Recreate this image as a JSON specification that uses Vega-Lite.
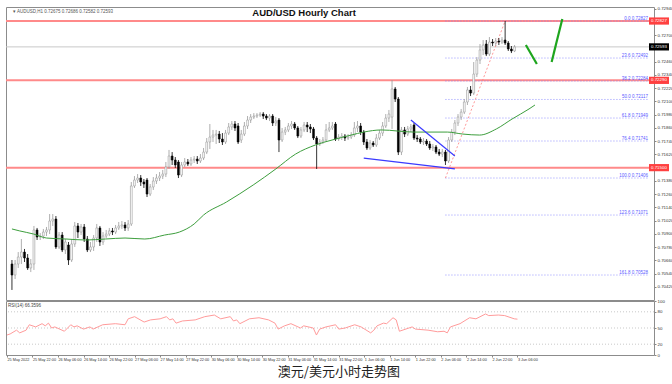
{
  "$schema": "https://vega.github.io/schema/vega-lite/v6.json",
  "background": "white",
  "padding": {"left": 4, "top": 5, "right": 0, "bottom": 0},
  "spacing": 1,
  "bounds": "flush",
  "config": {
    "view": {"stroke": "#8c8c8c", "strokeWidth": 1},
    "axis": {"labelFont": "Liberation Sans", "grid": false, "labelOverlap": false, "labelFlush": false, "labelFontSize": 4.4, "labelColor": "#333333", "tickColor": "#888888", "domain": false, "tickCount": 100},
    "axisRight": {"tickSize": 2, "labelPadding": 1},
    "axisBottom": {"tickSize": 2, "labelPadding": 0.5, "labelAlign": "left", "labelFontSize": 3.8},
    "text": {"font": "Liberation Sans"}
  },
  "title": {"text": "澳元/美元小时走势图", "orient": "bottom", "anchor": "middle", "font": "Noto Sans CJK SC", "fontSize": 13, "fontWeight": "normal", "color": "#222222", "offset": 4},
  "datasets": {
    "candles": [
      {"i":0,"o":0.70628,"h":0.70664,"l":0.70393,"c":0.70528},
      {"i":1,"o":0.70528,"h":0.70664,"l":0.70492,"c":0.70628},
      {"i":2,"o":0.70628,"h":0.70736,"l":0.70592,"c":0.70691},
      {"i":3,"o":0.70691,"h":0.70854,"l":0.70628,"c":0.70736},
      {"i":4,"o":0.70736,"h":0.70764,"l":0.70646,"c":0.70682},
      {"i":5,"o":0.70682,"h":0.70718,"l":0.70574,"c":0.70592},
      {"i":6,"o":0.70592,"h":0.70673,"l":0.70555,"c":0.70628},
      {"i":7,"o":0.70628,"h":0.70972,"l":0.70574,"c":0.70936},
      {"i":8,"o":0.70936,"h":0.70954,"l":0.70845,"c":0.70872},
      {"i":9,"o":0.70872,"h":0.70908,"l":0.70845,"c":0.70881},
      {"i":10,"o":0.70881,"h":0.70945,"l":0.70854,"c":0.70917},
      {"i":11,"o":0.70917,"h":0.70963,"l":0.70881,"c":0.70936},
      {"i":12,"o":0.70936,"h":0.7108,"l":0.70899,"c":0.71017},
      {"i":13,"o":0.71017,"h":0.7108,"l":0.70972,"c":0.71035},
      {"i":14,"o":0.71035,"h":0.71062,"l":0.70764,"c":0.70782},
      {"i":15,"o":0.70782,"h":0.70917,"l":0.70764,"c":0.7089},
      {"i":16,"o":0.7089,"h":0.70917,"l":0.70736,"c":0.70755},
      {"i":17,"o":0.70755,"h":0.70854,"l":0.70718,"c":0.70827},
      {"i":18,"o":0.708,"h":0.70827,"l":0.70619,"c":0.70664},
      {"i":19,"o":0.70664,"h":0.70854,"l":0.70646,"c":0.70809},
      {"i":20,"o":0.70809,"h":0.71008,"l":0.70782,"c":0.70972},
      {"i":21,"o":0.70972,"h":0.70999,"l":0.70863,"c":0.70917},
      {"i":22,"o":0.70917,"h":0.7099,"l":0.7089,"c":0.70963},
      {"i":23,"o":0.70963,"h":0.7099,"l":0.70827,"c":0.70854},
      {"i":24,"o":0.70854,"h":0.70881,"l":0.70736,"c":0.70755},
      {"i":25,"o":0.70755,"h":0.70827,"l":0.70736,"c":0.70782},
      {"i":26,"o":0.70782,"h":0.7089,"l":0.70746,"c":0.70863},
      {"i":27,"o":0.70863,"h":0.7099,"l":0.70827,"c":0.70954},
      {"i":28,"o":0.70954,"h":0.70972,"l":0.70791,"c":0.70827},
      {"i":29,"o":0.70827,"h":0.70917,"l":0.708,"c":0.70881},
      {"i":30,"o":0.70881,"h":0.70936,"l":0.70863,"c":0.70899},
      {"i":31,"o":0.70899,"h":0.70954,"l":0.70881,"c":0.70927},
      {"i":32,"o":0.70927,"h":0.70954,"l":0.7089,"c":0.70917},
      {"i":33,"o":0.70917,"h":0.70981,"l":0.70899,"c":0.70954},
      {"i":34,"o":0.70954,"h":0.71008,"l":0.70936,"c":0.70972},
      {"i":35,"o":0.70972,"h":0.71017,"l":0.70945,"c":0.70981},
      {"i":36,"o":0.70981,"h":0.71008,"l":0.70927,"c":0.70954},
      {"i":37,"o":0.70954,"h":0.71026,"l":0.70927,"c":0.7099},
      {"i":38,"o":0.7099,"h":0.7137,"l":0.70972,"c":0.71334},
      {"i":39,"o":0.71334,"h":0.71424,"l":0.71316,"c":0.71388},
      {"i":40,"o":0.71388,"h":0.71442,"l":0.71361,"c":0.71406},
      {"i":41,"o":0.71406,"h":0.71433,"l":0.71334,"c":0.7137},
      {"i":42,"o":0.7137,"h":0.71397,"l":0.71316,"c":0.71352},
      {"i":43,"o":0.71388,"h":0.71406,"l":0.71234,"c":0.71261},
      {"i":44,"o":0.71261,"h":0.71352,"l":0.71243,"c":0.71325},
      {"i":45,"o":0.71325,"h":0.71415,"l":0.71298,"c":0.71379},
      {"i":46,"o":0.71379,"h":0.71442,"l":0.71352,"c":0.71406},
      {"i":47,"o":0.71406,"h":0.7146,"l":0.71379,"c":0.71424},
      {"i":48,"o":0.71424,"h":0.71479,"l":0.71397,"c":0.71442},
      {"i":49,"o":0.71442,"h":0.71551,"l":0.71415,"c":0.71506},
      {"i":50,"o":0.71506,"h":0.7166,"l":0.71488,"c":0.71605},
      {"i":51,"o":0.71605,"h":0.71641,"l":0.71524,"c":0.71569},
      {"i":52,"o":0.71569,"h":0.71596,"l":0.71497,"c":0.71524},
      {"i":53,"o":0.71551,"h":0.71569,"l":0.71406,"c":0.71433},
      {"i":54,"o":0.71433,"h":0.71551,"l":0.71415,"c":0.71524},
      {"i":55,"o":0.71524,"h":0.71587,"l":0.71506,"c":0.71551},
      {"i":56,"o":0.71551,"h":0.71578,"l":0.71515,"c":0.71533},
      {"i":57,"o":0.71533,"h":0.71596,"l":0.71515,"c":0.71569},
      {"i":58,"o":0.71569,"h":0.71605,"l":0.71542,"c":0.71578},
      {"i":59,"o":0.71578,"h":0.71605,"l":0.71533,"c":0.7156},
      {"i":60,"o":0.7156,"h":0.71623,"l":0.71542,"c":0.71587},
      {"i":61,"o":0.71587,"h":0.71678,"l":0.71569,"c":0.71641},
      {"i":62,"o":0.71641,"h":0.71768,"l":0.71623,"c":0.71732},
      {"i":63,"o":0.71732,"h":0.71895,"l":0.71669,"c":0.71777},
      {"i":64,"o":0.71777,"h":0.71841,"l":0.71732,"c":0.71795},
      {"i":65,"o":0.71795,"h":0.71841,"l":0.71714,"c":0.71804},
      {"i":66,"o":0.71804,"h":0.71832,"l":0.71723,"c":0.71759},
      {"i":67,"o":0.71759,"h":0.71813,"l":0.71705,"c":0.71732},
      {"i":68,"o":0.71732,"h":0.71841,"l":0.71714,"c":0.71813},
      {"i":69,"o":0.71813,"h":0.71904,"l":0.71795,"c":0.71868},
      {"i":70,"o":0.71868,"h":0.71922,"l":0.71841,"c":0.71895},
      {"i":71,"o":0.71895,"h":0.71922,"l":0.71832,"c":0.71859},
      {"i":72,"o":0.71877,"h":0.71904,"l":0.71714,"c":0.71732},
      {"i":73,"o":0.7175,"h":0.71841,"l":0.71723,"c":0.71804},
      {"i":74,"o":0.71804,"h":0.71913,"l":0.71786,"c":0.71877},
      {"i":75,"o":0.71877,"h":0.71967,"l":0.7185,"c":0.71931},
      {"i":76,"o":0.71931,"h":0.71985,"l":0.71904,"c":0.71958},
      {"i":77,"o":0.71958,"h":0.71994,"l":0.7194,"c":0.71967},
      {"i":78,"o":0.71967,"h":0.71994,"l":0.71949,"c":0.71976},
      {"i":79,"o":0.71976,"h":0.72003,"l":0.71958,"c":0.71985},
      {"i":80,"o":0.71985,"h":0.72003,"l":0.7194,"c":0.71967},
      {"i":81,"o":0.71967,"h":0.71985,"l":0.71931,"c":0.71949},
      {"i":82,"o":0.71949,"h":0.71985,"l":0.71922,"c":0.71967},
      {"i":83,"o":0.71967,"h":0.71985,"l":0.71877,"c":0.71904},
      {"i":84,"o":0.71904,"h":0.71958,"l":0.71877,"c":0.71922},
      {"i":85,"o":0.71931,"h":0.71949,"l":0.71641,"c":0.7175},
      {"i":86,"o":0.7175,"h":0.71859,"l":0.71732,"c":0.71822},
      {"i":87,"o":0.71822,"h":0.71868,"l":0.71795,"c":0.71841},
      {"i":88,"o":0.71841,"h":0.71904,"l":0.71822,"c":0.71877},
      {"i":89,"o":0.71877,"h":0.71922,"l":0.7185,"c":0.71895},
      {"i":90,"o":0.71895,"h":0.71913,"l":0.71841,"c":0.71859},
      {"i":91,"o":0.71859,"h":0.71877,"l":0.71768,"c":0.71786},
      {"i":92,"o":0.71786,"h":0.71868,"l":0.71768,"c":0.71841},
      {"i":93,"o":0.71841,"h":0.71913,"l":0.71822,"c":0.71886},
      {"i":94,"o":0.71886,"h":0.71913,"l":0.71822,"c":0.71868},
      {"i":95,"o":0.71868,"h":0.71895,"l":0.71813,"c":0.7185},
      {"i":96,"o":0.7185,"h":0.71868,"l":0.7175,"c":0.71768},
      {"i":97,"o":0.71768,"h":0.71786,"l":0.71488,"c":0.71714},
      {"i":98,"o":0.71714,"h":0.71759,"l":0.71696,"c":0.71732},
      {"i":99,"o":0.71732,"h":0.71777,"l":0.71714,"c":0.7175},
      {"i":100,"o":0.7175,"h":0.71895,"l":0.71732,"c":0.71841},
      {"i":101,"o":0.71841,"h":0.71913,"l":0.71822,"c":0.71859},
      {"i":102,"o":0.71859,"h":0.71913,"l":0.71841,"c":0.71877},
      {"i":103,"o":0.71895,"h":0.71913,"l":0.71741,"c":0.71759},
      {"i":104,"o":0.71759,"h":0.71804,"l":0.71741,"c":0.71777},
      {"i":105,"o":0.71777,"h":0.71813,"l":0.7175,"c":0.71786},
      {"i":106,"o":0.71786,"h":0.71804,"l":0.71741,"c":0.71768},
      {"i":107,"o":0.71768,"h":0.71804,"l":0.7175,"c":0.71777},
      {"i":108,"o":0.71777,"h":0.71822,"l":0.71759,"c":0.71795},
      {"i":109,"o":0.71795,"h":0.71913,"l":0.71777,"c":0.71859},
      {"i":110,"o":0.71859,"h":0.71922,"l":0.71822,"c":0.71877},
      {"i":111,"o":0.71877,"h":0.71904,"l":0.71795,"c":0.71822},
      {"i":112,"o":0.71822,"h":0.71841,"l":0.71705,"c":0.71732},
      {"i":113,"o":0.71732,"h":0.71759,"l":0.7166,"c":0.71678},
      {"i":114,"o":0.71678,"h":0.7175,"l":0.7166,"c":0.71723},
      {"i":115,"o":0.71723,"h":0.71741,"l":0.71687,"c":0.71705},
      {"i":116,"o":0.71705,"h":0.71804,"l":0.71687,"c":0.71768},
      {"i":117,"o":0.71768,"h":0.71841,"l":0.7175,"c":0.71813},
      {"i":118,"o":0.71813,"h":0.71913,"l":0.71786,"c":0.71877},
      {"i":119,"o":0.71877,"h":0.71985,"l":0.71859,"c":0.71949},
      {"i":120,"o":0.71949,"h":0.72022,"l":0.71913,"c":0.71985},
      {"i":121,"o":0.71958,"h":0.72293,"l":0.7185,"c":0.72212},
      {"i":122,"o":0.72212,"h":0.7223,"l":0.72094,"c":0.72121},
      {"i":123,"o":0.72121,"h":0.72139,"l":0.71614,"c":0.71641},
      {"i":124,"o":0.71641,"h":0.71868,"l":0.71614,"c":0.71841},
      {"i":125,"o":0.71841,"h":0.71868,"l":0.71777,"c":0.71804},
      {"i":126,"o":0.71804,"h":0.71877,"l":0.71786,"c":0.7185},
      {"i":127,"o":0.7185,"h":0.71895,"l":0.71822,"c":0.71868},
      {"i":128,"o":0.71886,"h":0.71904,"l":0.7175,"c":0.71768},
      {"i":129,"o":0.71768,"h":0.71795,"l":0.71732,"c":0.71759},
      {"i":130,"o":0.71759,"h":0.71777,"l":0.71714,"c":0.71732},
      {"i":131,"o":0.71732,"h":0.71768,"l":0.71705,"c":0.71741},
      {"i":132,"o":0.71741,"h":0.71759,"l":0.71696,"c":0.71714},
      {"i":133,"o":0.71714,"h":0.71741,"l":0.7166,"c":0.71678},
      {"i":134,"o":0.71678,"h":0.71714,"l":0.71651,"c":0.71687},
      {"i":135,"o":0.71687,"h":0.71705,"l":0.71623,"c":0.71641},
      {"i":136,"o":0.71641,"h":0.71669,"l":0.71605,"c":0.71623},
      {"i":137,"o":0.71623,"h":0.71669,"l":0.71596,"c":0.71641},
      {"i":138,"o":0.71641,"h":0.7166,"l":0.71524,"c":0.7156},
      {"i":139,"o":0.7156,"h":0.71777,"l":0.71542,"c":0.7175},
      {"i":140,"o":0.7175,"h":0.7185,"l":0.71732,"c":0.71822},
      {"i":141,"o":0.71822,"h":0.71931,"l":0.71795,"c":0.71904},
      {"i":142,"o":0.71904,"h":0.71985,"l":0.71877,"c":0.71958},
      {"i":143,"o":0.71958,"h":0.72031,"l":0.71931,"c":0.72003},
      {"i":144,"o":0.72003,"h":0.72121,"l":0.71985,"c":0.72094},
      {"i":145,"o":0.72094,"h":0.7223,"l":0.72067,"c":0.72203},
      {"i":146,"o":0.72203,"h":0.72239,"l":0.72148,"c":0.72175},
      {"i":147,"o":0.72175,"h":0.72456,"l":0.72157,"c":0.72347},
      {"i":148,"o":0.72347,"h":0.72501,"l":0.7232,"c":0.72474},
      {"i":149,"o":0.72474,"h":0.72619,"l":0.72438,"c":0.72565},
      {"i":150,"o":0.72565,"h":0.72655,"l":0.72519,"c":0.7261},
      {"i":151,"o":0.72619,"h":0.72655,"l":0.7251,"c":0.72528},
      {"i":152,"o":0.72528,"h":0.72682,"l":0.7251,"c":0.72637},
      {"i":153,"o":0.72637,"h":0.72664,"l":0.72601,"c":0.72628},
      {"i":154,"o":0.72628,"h":0.72673,"l":0.72601,"c":0.72646},
      {"i":155,"o":0.72646,"h":0.72673,"l":0.7261,"c":0.72637},
      {"i":156,"o":0.72637,"h":0.72682,"l":0.72619,"c":0.72655},
      {"i":157,"o":0.72655,"h":0.72827,"l":0.7261,"c":0.72628},
      {"i":158,"o":0.72628,"h":0.72646,"l":0.72556,"c":0.72574},
      {"i":159,"o":0.72574,"h":0.72601,"l":0.72537,"c":0.72556},
      {"i":160,"o":0.72556,"h":0.7261,"l":0.72546,"c":0.72593}
    ],
    "ma": [
      {"i":0,"p":0.70945},{"i":2.5,"p":0.70927},{"i":6.9,"p":0.70899},{"i":11,"p":0.70863},
      {"i":17.2,"p":0.70854},{"i":23.5,"p":0.70845},{"i":29.8,"p":0.70854},{"i":36,"p":0.70863},
      {"i":42.3,"p":0.70854},{"i":48.6,"p":0.7089},{"i":53.3,"p":0.70917},{"i":58,"p":0.7099},
      {"i":61,"p":0.71071},{"i":68.3,"p":0.71189},{"i":76.8,"p":0.71343},{"i":84,"p":0.71488},
      {"i":90.3,"p":0.71623},{"i":96.6,"p":0.71705},{"i":101.9,"p":0.7175},{"i":108,"p":0.71795},
      {"i":112,"p":0.71822},{"i":117.6,"p":0.71841},{"i":127.9,"p":0.71822},{"i":138.6,"p":0.71822},
      {"i":143.5,"p":0.71804},{"i":148.9,"p":0.71795},{"i":154.2,"p":0.7185},{"i":159.2,"p":0.7194},
      {"i":164.6,"p":0.72031},{"i":166.5,"p":0.72067}
    ],
    "rsi": [
      {"i":0,"r":37},{"i":1,"r":39},{"i":3,"r":46},{"i":4,"r":41},{"i":6,"r":46},{"i":7,"r":56},{"i":9,"r":52},{"i":11,"r":58},{"i":12,"r":54},{"i":13,"r":59},{"i":14,"r":50},{"i":15,"r":52},{"i":18,"r":44},{"i":20,"r":56},{"i":21,"r":52},{"i":22,"r":54},{"i":24,"r":48},{"i":26,"r":52},{"i":27,"r":48},{"i":30,"r":56},{"i":34,"r":58},{"i":37,"r":56},{"i":38,"r":67},{"i":40,"r":71},{"i":43,"r":61},{"i":45,"r":65},{"i":48,"r":67},{"i":50,"r":71},{"i":51,"r":65},{"i":52,"r":67},{"i":53,"r":59},{"i":55,"r":63},{"i":59,"r":65},{"i":62,"r":71},{"i":65,"r":74},{"i":67,"r":67},{"i":70,"r":71},{"i":71,"r":63},{"i":72,"r":65},{"i":73,"r":58},{"i":76,"r":67},{"i":79,"r":69},{"i":82,"r":65},{"i":84,"r":59},{"i":85,"r":48},{"i":87,"r":54},{"i":89,"r":58},{"i":92,"r":50},{"i":93,"r":54},{"i":96,"r":50},{"i":97,"r":37},{"i":98,"r":48},{"i":100,"r":52},{"i":103,"r":56},{"i":104,"r":48},{"i":106,"r":50},{"i":109,"r":56},{"i":111,"r":52},{"i":114,"r":41},{"i":115,"r":46},{"i":116,"r":54},{"i":118,"r":59},{"i":119,"r":58},{"i":121,"r":69},{"i":122,"r":65},{"i":123,"r":44},{"i":127,"r":52},{"i":128,"r":48},{"i":132,"r":46},{"i":135,"r":43},{"i":137,"r":44},{"i":138,"r":41},{"i":139,"r":52},{"i":142,"r":58},{"i":145,"r":69},{"i":147,"r":67},{"i":150,"r":76},{"i":151,"r":73},{"i":154,"r":74},{"i":156,"r":73},{"i":159,"r":67},{"i":160,"r":66.36}
    ],
    "fib": [
      {"i":138,"p":0.72827,"t":"0.0 0.72827"},
      {"i":138,"p":0.72492,"t":"23.6 0.72492"},
      {"i":138,"p":0.72284,"t":"38.2 0.72284"},
      {"i":138,"p":0.72117,"t":"50.0 0.72117"},
      {"i":138,"p":0.71949,"t":"61.8 0.71949"},
      {"i":138,"p":0.71741,"t":"76.4 0.71741"},
      {"i":138,"p":0.71406,"t":"100.0 0.71406"},
      {"i":138,"p":0.71071,"t":"123.6 0.71071"},
      {"i":138,"p":0.70528,"t":"161.8 0.70528"}
    ]
  },
  "vconcat": [
    {
      "width": 648,
      "height": 293,
      "layer": [
        {
          "data": {"values": [{"p":0.72827},{"p":0.7229},{"p":0.715}]},
          "mark": {"type": "rule", "color": "#ff8a8a", "strokeWidth": 2},
          "encoding": {
            "y": {"field": "p", "type": "quantitative", "title": null, "scale": {"domain": [0.70302, 0.72954], "nice": false, "zero": false},
              "axis": {"orient": "right", "title": null, "tickCount": 100, "values": [0.703,0.7042,0.7054,0.7066,0.7078,0.709,0.7102,0.7114,0.7126,0.7138,0.7162,0.7174,0.7186,0.7198,0.721,0.7222,0.7234,0.7246,0.727,0.7294],
                "format": ".5f", "labelOverlap": false, "labelFlush": false}}
          }
        },
        {
          "data": {"values": [{"p":0.72593}]},
          "mark": {"type": "rule", "color": "#c8c8c8", "strokeWidth": 1},
          "encoding": {"y": {"field": "p", "type": "quantitative", "title": null}}
        },
        {
          "data": {"name": "fib"},
          "mark": {"type": "rule", "color": "#7b7bff", "strokeWidth": 0.8, "strokeDash": [1, 2]},
          "encoding": {
            "x": {"field": "i", "type": "quantitative", "axis": null},
            "x2": {"datum": 202.8},
            "y": {"field": "p", "type": "quantitative", "title": null}
          }
        },
        {
          "data": {"name": "fib"},
          "mark": {"type": "text", "align": "right", "baseline": "bottom", "fontSize": 4.5, "color": "#5a5aff", "dx": -1, "dy": 0},
          "encoding": {
            "x": {"datum": 202.8, "axis": null},
            "y": {"field": "p", "type": "quantitative", "title": null},
            "text": {"field": "t"}
          }
        },
        {
          "data": {"values": [{"i":138,"p":0.71406,"i2":157,"p2":0.72827}]},
          "mark": {"type": "rule", "color": "#ff7f7f", "strokeWidth": 0.8, "strokeDash": [2, 2]},
          "encoding": {
            "x": {"field": "i", "type": "quantitative", "axis": null},
            "x2": {"field": "i2"},
            "y": {"field": "p", "type": "quantitative", "title": null},
            "y2": {"field": "p2"}
          }
        },
        {
          "data": {"name": "candles"},
          "mark": {"type": "rule", "strokeWidth": 0.8},
          "encoding": {
            "x": {"field": "i", "type": "quantitative", "axis": null, "scale": {"domain": [-0.3, 202.8], "nice": false, "zero": false}},
            "y": {"field": "l", "type": "quantitative", "title": null},
            "y2": {"field": "h"},
            "stroke": {"condition": {"test": "datum.c < datum.o", "value": "#000000"}, "value": "#9a9a9a"}
          }
        },
        {
          "data": {"name": "candles"},
          "mark": {"type": "bar", "size": 1.8, "strokeWidth": 0.6},
          "encoding": {
            "x": {"field": "i", "type": "quantitative", "axis": null},
            "y": {"field": "o", "type": "quantitative", "title": null},
            "y2": {"field": "c"},
            "fill": {"condition": {"test": "datum.c < datum.o", "value": "#000000"}, "value": "#ffffff"},
            "stroke": {"condition": {"test": "datum.c < datum.o", "value": "#000000"}, "value": "#9a9a9a"}
          }
        },
        {
          "data": {"name": "ma"},
          "mark": {"type": "line", "color": "#3d9e3d", "strokeWidth": 1, "interpolate": "monotone"},
          "encoding": {
            "x": {"field": "i", "type": "quantitative", "axis": null},
            "y": {"field": "p", "type": "quantitative", "title": null}
          }
        },
        {
          "data": {"values": [{"g":"u","i":127,"p":0.71931},{"g":"u","i":141,"p":0.71605},{"g":"d","i":112,"p":0.71587},{"g":"d","i":141,"p":0.71488}]},
          "mark": {"type": "line", "color": "#3a3aff", "strokeWidth": 1.2},
          "encoding": {
            "x": {"field": "i", "type": "quantitative", "axis": null},
            "y": {"field": "p", "type": "quantitative", "title": null},
            "detail": {"field": "g"}
          }
        },
        {
          "data": {"values": [{"g":"a","i":163.6,"p":0.7261},{"g":"a","i":167.1,"p":0.72438},{"g":"b","i":171.8,"p":0.72456},{"g":"b","i":175.2,"p":0.72845}]},
          "mark": {"type": "line", "color": "#1ea51e", "strokeWidth": 2.2},
          "encoding": {
            "x": {"field": "i", "type": "quantitative", "axis": null},
            "y": {"field": "p", "type": "quantitative", "title": null},
            "detail": {"field": "g"}
          }
        },
        {
          "data": {"values": [{}]},
          "mark": {"type": "text", "text": "AUD/USD Hourly Chart", "fontSize": 9.5, "fontWeight": "bold", "color": "#111111", "align": "center", "baseline": "middle"},
          "encoding": {"x": {"datum": 93, "axis": null}, "y": {"datum": 0.72899, "title": null}}
        },
        {
          "data": {"values": [{}]},
          "mark": {"type": "text", "text": "▾ AUDUSD,H1  0.72675 0.72686 0.72582 0.72593", "fontSize": 4.5, "color": "#555555", "align": "left", "baseline": "top", "dx": 2, "dy": 2},
          "encoding": {"x": {"datum": -0.3, "axis": null}, "y": {"datum": 0.72954, "title": null}}
        },
        {
          "data": {"values": [{"p":0.72827},{"p":0.7229},{"p":0.715}]},
          "mark": {"type": "point", "shape": "M0,-0.36H2V0.36H0Z", "filled": true, "size": 400, "color": "#ff4040", "opacity": 1, "strokeWidth": 0},
          "encoding": {"x": {"datum": 202.8, "axis": null}, "y": {"field": "p", "type": "quantitative", "title": null}}
        },
        {
          "data": {"values": [{"p":0.72593}]},
          "mark": {"type": "point", "shape": "M0,-0.36H2V0.36H0Z", "filled": true, "size": 400, "color": "#000000", "opacity": 1, "strokeWidth": 0},
          "encoding": {"x": {"datum": 202.8, "axis": null}, "y": {"field": "p", "type": "quantitative", "title": null}}
        },
        {
          "data": {"values": [{"p":0.72827},{"p":0.7229},{"p":0.715},{"p":0.72593}]},
          "mark": {"type": "text", "fontSize": 4.4, "color": "#ffffff", "align": "left", "baseline": "middle", "dx": 2},
          "encoding": {"x": {"datum": 202.8, "axis": null}, "y": {"field": "p", "type": "quantitative", "title": null}, "text": {"field": "p", "format": ".5f"}}
        }
      ]
    },
    {
      "width": 648,
      "height": 54,
      "layer": [
        {
          "data": {"values": [{"r":80},{"r":50},{"r":20}]},
          "mark": {"type": "rule", "color": "#bbbbbb", "strokeDash": [1, 2], "strokeWidth": 0.8},
          "encoding": {
            "y": {"field": "r", "type": "quantitative", "title": null, "scale": {"domain": [0, 100], "nice": false, "zero": false},
              "axis": {"orient": "right", "title": null, "tickCount": 100, "values": [0, 20, 50, 80, 100], "labelOverlap": false, "labelFlush": false}}
          }
        },
        {
          "data": {"name": "rsi"},
          "mark": {"type": "line", "color": "#ff9b9b", "strokeWidth": 1},
          "encoding": {
            "x": {"field": "i", "type": "quantitative", "title": null, "scale": {"domain": [-0.3, 202.8], "nice": false, "zero": false},
              "axis": {"orient": "bottom", "title": null, "tickCount": 100, "values": [0,8,16,24,32,40,48,56,64,72,80,88,96,104,112,120,128,136,144,152,160],
                "labelExpr": "['25 May 2022','25 May 22:00','26 May 06:00','26 May 14:00','26 May 22:00','27 May 06:00','27 May 14:00','27 May 22:00','30 May 06:00','30 May 14:00','30 May 22:00','31 May 06:00','31 May 14:00','31 May 22:00','1 Jun 06:00','1 Jun 14:00','1 Jun 22:00','2 Jun 06:00','2 Jun 14:00','2 Jun 22:00','3 Jun 06:00'][round(datum.value/8)]",
                "labelAlign": "left", "labelOverlap": false, "labelFlush": false}},
            "y": {"field": "r", "type": "quantitative", "title": null}
          }
        },
        {
          "data": {"values": [{}]},
          "mark": {"type": "text", "text": "RSI(14) 66.3596", "fontSize": 4.5, "color": "#444444", "align": "left", "baseline": "top", "dx": 2, "dy": 2},
          "encoding": {"x": {"datum": -0.3, "title": null}, "y": {"datum": 100, "title": null}}
        }
      ]
    }
  ]
}
